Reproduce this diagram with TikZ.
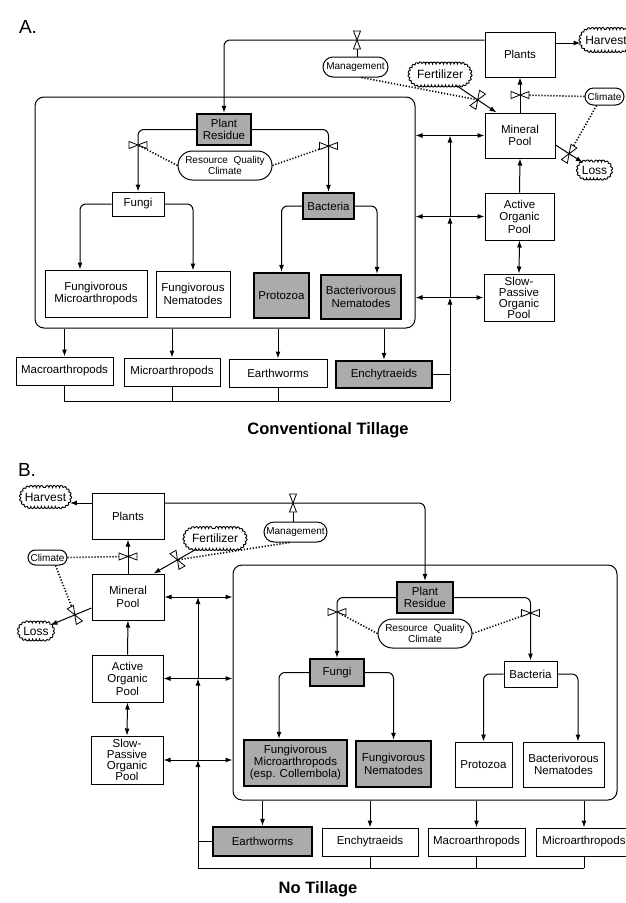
\documentclass[tikz,border=0pt]{standalone}
\usepackage{fontspec}
\setmainfont{Liberation Sans}
\usetikzlibrary{arrows.meta,shapes.misc,calc,decorations.pathmorphing}
\newcommand\myboxfont{\fontsize{11.5}{12.5}\selectfont}
\newcommand\myfourfont{\fontsize{11.5}{11}\selectfont}
\newcommand\mysmallfont{\fontsize{10}{11}\selectfont}
\newcommand\mycloudfont{\fontsize{12}{13}\selectfont}
\begin{document}
\begin{tikzpicture}[x=1pt,y=-1pt,line width=1pt,
  wh/.style 2 args={minimum width=#1pt, minimum height=#2pt},
  box/.style={draw, line width=1pt, fill=white, align=center, inner sep=0pt, font=\myboxfont},
  gbox/.style={box, fill=black!33, line width=2.4pt},
  four/.style={font=\myfourfont},
  soil/.style={draw, line width=1pt, rounded corners=9pt, inner sep=0pt},
  oval/.style={draw, rounded rectangle, line width=1pt, fill=white, inner sep=0pt, align=center, font=\mysmallfont},
  cl/.style={draw, rounded rectangle, line width=0.9pt, inner sep=0pt, font=\mycloudfont, fill=white,
    decorate, decoration={bumps, segment length=7pt, amplitude=2pt}},
  arr/.style={-{Latex[length=7pt,width=5pt]}},
  darr/.style={{Latex[length=7pt,width=5pt]}-{Latex[length=7pt,width=5pt]}},
  info/.style={line width=1.6pt, dash pattern=on 1.2pt off 1.8pt},
  link/.style={line width=0.7pt},
  valve/.pic={\draw[line width=0.8pt, fill=white] (-9,-3.5)--(9,3.5)--(9,-3.5)--(-9,3.5)--cycle;},
  lbl/.style={font=\fontsize{19}{19}\selectfont, inner sep=0pt},
  ttl/.style={font=\bfseries\fontsize{16.5}{17}\selectfont, inner sep=0pt}]
\useasboundingbox (0,0) rectangle (626,903);

% ================= Panel A =================
\node[lbl] (labA) at (28,27) {A.};
\node[soil, wh={380}{231}] (soilA) at (225,212.5) {};
\node[box, wh={70}{45}] (plantsA) at (520,54.5) {Plants};
\node[box, wh={70}{45}] (mineralA) at (520,135.5) {Mineral\\Pool};
\node[box, wh={69}{47}] (activeA) at (519.5,216.5) {Active\\Organic\\Pool};
\node[box, four, wh={70}{47}] (slowA) at (519,297.5) {Slow-\\Passive\\Organic\\Pool};
\node[gbox, wh={54}{31}] (residueA) at (224,129.5) {Plant\\Residue};
\node[oval, wh={94}{29}] (rqcA) at (225,165.5) {Resource\ \ Quality\\Climate};
\node[box, wh={52}{24}] (fungiA) at (138,204) {Fungi};
\node[box, wh={102}{47}] (fmA) at (96,293.5) {Fungivorous\\Microarthropods};
\node[box, wh={74}{46}] (fnA) at (193,294) {Fungivorous\\Nematodes};
\node[gbox, wh={51}{26}] (bactA) at (328.5,206) {Bacteria};
\node[gbox, wh={55}{45}] (protoA) at (281.5,295.5) {Protozoa};
\node[gbox, wh={80}{44}] (bnA) at (361,297) {Bacterivorous\\Nematodes};
\node[box, wh={97}{28}] (macroA) at (64.5,371) {Macroarthropods};
\node[box, wh={96}{28}] (microA) at (172,372) {Microarthropods};
\node[box, wh={98}{28}] (earthA) at (278,373) {Earthworms};
\node[gbox, wh={96}{27}] (enchyA) at (384,374.5) {Enchytraeids};
\node[oval, wh={65}{20}] (manageA) at (355.5,67) {Management};
\node[cl, wh={60}{21}] (fertA) at (440,74.5) {Fertilizer};
\node[cl, wh={50}{21}] (harvestA) at (606,40) {Harvest};
\node[oval, wh={39}{17}] (climateA) at (604.5,96.5) {Climate};
\node[cl, wh={32}{16}] (lossA) at (594.5,170) {Loss};
\node[ttl] (ttlA) at (328,430) {Conventional Tillage};

\coordinate (pA1) at ([yshift=14.5pt]plantsA.west);
\draw[arr, rounded corners=6pt] (pA1) -| (residueA.north);
\coordinate (vTA) at (357,40);
\draw[link] (vTA) -- (vTA |- manageA.north);
\coordinate (mA) at ([xshift=12pt]mineralA.north west);
\draw[arr] (fertA) -- (mA);
\coordinate (vFA) at ($(fertA.center)!0.667!(mA)$);
\draw[info] ([xshift=6pt]manageA.south) -- (vFA);
\draw[arr] (mineralA.north) -- (plantsA.south);
\coordinate (vPA) at ($(mineralA.north)!0.5!(plantsA.south)$);
\draw[info] (climateA.west) -- (vPA);
\coordinate (lA) at ([yshift=-9.5pt]mineralA.east);
\draw[arr] (lA) -- (lossA);
\coordinate (vLA) at ($(lA)!0.35!(lossA.center)$);
\draw[info] ([xshift=-8pt]climateA.south) -- (vLA);
\draw[arr] ([yshift=11.5pt]plantsA.east) -- (harvestA.west |- 0,43);
\draw[darr] (soilA.east |- mineralA.west) -- (mineralA.west);
\draw[darr] (soilA.east |- activeA.west) -- (activeA.west);
\draw[darr] (soilA.east |- slowA.west) -- (slowA.west);
\draw[arr] (activeA.north) -- (mineralA.south);
\draw[darr] (activeA.south) -- (slowA.north);
\coordinate (busA) at (450,401);
\draw[arr] (busA) -- (busA |- slowA.west);
\draw[arr] (busA |- slowA.west) -- (busA |- activeA.west);
\draw[arr] (busA |- activeA.west) -- (busA |- mineralA.west);
\draw (macroA.south) |- (busA);
\draw (microA.south) -- (microA.south |- busA);
\draw (earthA.south) -- (earthA.south |- busA);
\draw (enchyA.east) -- (enchyA.east -| busA);
\foreach \n in {macroA,microA,earthA,enchyA} \draw[arr] (soilA.south -| \n.north) -- (\n.north);
\draw[arr, rounded corners=6pt] (residueA.west) -| (fungiA.north);
\draw[arr, rounded corners=6pt] (residueA.east) -| (bactA.north);
\coordinate (vRA1) at (fungiA.north |- 0,145);
\coordinate (vRA2) at (bactA.north |- 0,146);
\draw[info] (rqcA.west) -- (vRA1);
\draw[info] (rqcA.east) -- (vRA2);
\draw[arr, rounded corners=6pt] (fungiA.west) -| ([xshift=-16pt]fmA.north);
\draw[arr, rounded corners=6pt] (fungiA.east) -| (fnA.north);
\draw[arr, rounded corners=6pt] (bactA.west) -| (protoA.north);
\draw[arr, rounded corners=6pt] (bactA.east) -| ([xshift=16pt]bnA.north);
\pic[rotate=90] at (vTA) {valve};
\pic[rotate=58] at (vFA) {valve};
\pic at (vPA) {valve};
\pic[rotate=58] at (vLA) {valve};
\pic at (vRA1) {valve};
\pic at (vRA2) {valve};

% ================= Panel B =================
\node[lbl] (labB) at (27,470) {B.};
\node[soil, wh={384}{235}] (soilB) at (425,682.5) {};
\node[box, wh={72}{46}] (plantsB) at (128,516) {Plants};
\node[box, wh={72}{46}] (mineralB) at (128,597) {Mineral\\Pool};
\node[box, wh={71}{47}] (activeB) at (127.5,678.5) {Active\\Organic\\Pool};
\node[box, four, wh={72}{48}] (slowB) at (127,760) {Slow-\\Passive\\Organic\\Pool};
\node[cl, wh={48}{19}] (harvestB) at (45.5,497) {Harvest};
\node[cl, wh={60}{20}] (fertB) at (215,538.5) {Fertilizer};
\node[oval, wh={63}{20}] (manageB) at (295.5,532) {Management};
\node[oval, wh={39}{15}] (climateB) at (47.5,557.5) {Climate};
\node[cl, wh={33}{16}] (lossB) at (36,631) {Loss};
\node[gbox, wh={56}{31}] (residueB) at (425,597.5) {Plant\\Residue};
\node[oval, wh={94}{29}] (rqcB) at (425,633.5) {Resource\ \ Quality\\Climate};
\node[gbox, wh={54}{27}] (fungiB) at (337,672.5) {Fungi};
\node[gbox, wh={103}{46}, font=\fontsize{11.5}{12}\selectfont] (fmB) at (295.5,763) {Fungivorous\\Microarthropods\\(esp. Collembola)};
\node[gbox, wh={75}{46}] (fnB) at (393.5,764) {Fungivorous\\Nematodes};
\node[box, wh={53}{26}] (bactB) at (530.5,674) {Bacteria};
\node[box, wh={57}{45}] (protoB) at (483.5,764.5) {Protozoa};
\node[box, wh={81}{45}] (bnB) at (563.5,764.5) {Bacterivorous\\Nematodes};
\node[gbox, wh={99}{29}] (earthB) at (262.5,841.5) {Earthworms};
\node[box, wh={96}{28}] (enchyB) at (370,842) {Enchytraeids};
\node[box, wh={97}{28}] (macroB) at (476.5,842) {Macroarthropods};
\node[box, wh={96}{28}] (microB) at (584,842) {Microarthropods};
\node[ttl] (ttlB) at (318,889) {No Tillage};

\coordinate (pB1) at ([yshift=13pt]plantsB.east);
\draw[arr, rounded corners=6pt] (pB1) -| (residueB.north);
\draw[arr] ([yshift=13pt]plantsB.west) -- (harvestB.east |- pB1);
\coordinate (vTB) at (293,503);
\draw[link] (vTB) -- (vTB |- manageB.north);
\coordinate (mB) at ([xshift=-11pt]mineralB.north east);
\draw[arr] (fertB) -- (mB);
\coordinate (vFB) at ($(fertB.center)!0.61!(mB)$);
\draw[info] ([xshift=-6pt]manageB.south) -- (vFB);
\draw[arr] (mineralB.north) -- (plantsB.south);
\coordinate (vPB) at ($(mineralB.north)!0.5!(plantsB.south)$);
\draw[info] (climateB.east) -- (vPB);
\coordinate (lB) at ([yshift=-11pt]mineralB.west);
\draw[arr] (lB) -- (lossB);
\coordinate (vLB) at ($(lB)!0.3!(lossB.center)$);
\draw[info] ([xshift=8pt]climateB.south) -- (vLB);
\draw[darr] (mineralB.east) -- (soilB.west |- mineralB.east);
\draw[darr] (activeB.east) -- (soilB.west |- activeB.east);
\draw[darr] (slowB.east) -- (soilB.west |- slowB.east);
\draw[arr] (activeB.north) -- (mineralB.south);
\draw[darr] (activeB.south) -- (slowB.north);
\coordinate (busB) at (198,868);
\draw[arr] (busB) -- (busB |- slowB.east);
\draw[arr] (busB |- slowB.east) -- (busB |- activeB.east);
\draw[arr] (busB |- activeB.east) -- (busB |- mineralB.east);
\draw (earthB.west) -- (earthB.west -| busB);
\draw (busB) -- (microB.south |- busB);
\foreach \n in {enchyB,macroB,microB} \draw (\n.south) -- (\n.south |- busB);
\foreach \n in {earthB,enchyB,macroB,microB} \draw[arr] (soilB.south -| \n.north) -- (\n.north);
\draw[arr, rounded corners=6pt] (residueB.west) -| (fungiB.north);
\draw[arr, rounded corners=6pt] (residueB.east) -| (bactB.north);
\coordinate (vRB1) at (fungiB.north |- 0,612);
\coordinate (vRB2) at (bactB.north |- 0,613);
\draw[info] (rqcB.west) -- (vRB1);
\draw[info] (rqcB.east) -- (vRB2);
\draw[arr, rounded corners=6pt] (fungiB.west) -| ([xshift=-16.5pt]fmB.north);
\draw[arr, rounded corners=6pt] (fungiB.east) -| (fnB.north);
\draw[arr, rounded corners=6pt] (bactB.west) -| (protoB.north);
\draw[arr, rounded corners=6pt] (bactB.east) -| ([xshift=14.5pt]bnB.north);
\pic[rotate=90] at (vTB) {valve};
\pic[rotate=-60] at (vFB) {valve};
\pic at (vPB) {valve};
\pic[rotate=-60] at (vLB) {valve};
\pic at (vRB1) {valve};
\pic at (vRB2) {valve};
\end{tikzpicture}
\end{document}
